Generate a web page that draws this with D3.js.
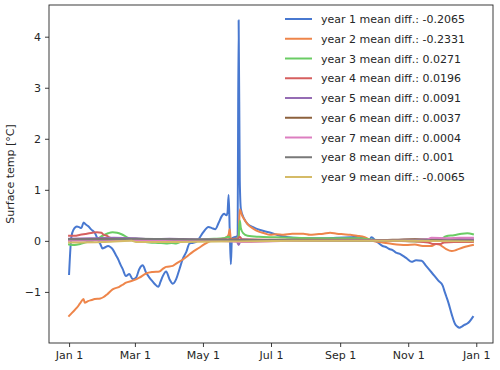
<!DOCTYPE html>
<head lang="en">
<meta charset="utf-8">
<title>Surface temp mean difference per year</title>
<style>
body { margin:0; background:#fff; }
* { font-family:"DejaVu Sans", sans-serif; }
</style>
<script src="https://cdnjs.cloudflare.com/ajax/libs/d3/7.8.5/d3.min.js"></script>
</head>
<body>
<script>
// series as [day of year, value] pairs
var year1 = [[0,-0.65],[2,0.07],[4,0.22],[7,0.28],[9,0.27],[11,0.25],[13,0.36],[15,0.32],[17,0.29],[20,0.22],[23,0.16],[26,0.02],[28,-0.06],[30,-0.15],[32,-0.13],[35,-0.1],[37,-0.12],[39,-0.16],[42,-0.28],[44,-0.36],[46,-0.46],[48,-0.55],[51,-0.69],[54,-0.65],[57,-0.75],[60,-0.72],[63,-0.55],[66,-0.48],[69,-0.62],[72,-0.72],[75,-0.8],[77,-0.85],[80,-0.9],[82,-0.8],[84,-0.69],[87,-0.6],[90,-0.75],[93,-0.84],[96,-0.75],[99,-0.55],[102,-0.35],[105,-0.22],[108,-0.05],[110,-0.04],[114,-0.02],[117,0.06],[120,0.16],[125,0.27],[128,0.25],[131,0.23],[134,0.35],[137,0.49],[139,0.53],[141,0.5],[142,0.55],[143,0.9],[144,0.2],[145,-0.46],[146,0.05],[148,0.07],[150,0.08],[151,0.1],[152,4.32],[153,1.2],[154,0.62],[157,0.43],[160,0.33],[165,0.27],[169,0.23],[177,0.18],[182,0.15],[189,0.1],[201,0.06],[222,0.05],[240,0.06],[252,0.07],[260,0.08],[265,0.04],[269,0.01],[271,0.07],[275,0],[281,-0.1],[284,-0.12],[287,-0.16],[290,-0.18],[293,-0.23],[296,-0.25],[299,-0.29],[303,-0.35],[307,-0.41],[311,-0.38],[316,-0.39],[320,-0.49],[325,-0.62],[331,-0.78],[335,-0.88],[336,-0.95],[338,-1.08],[340,-1.21],[343,-1.44],[346,-1.63],[348,-1.68],[350,-1.7],[352,-1.68],[354,-1.65],[357,-1.62],[359,-1.58],[362,-1.49]];
var year2 = [[0,-1.47],[3,-1.4],[7,-1.31],[10,-1.22],[13,-1.14],[14,-1.21],[17,-1.18],[20,-1.16],[23,-1.14],[28,-1.13],[31,-1.1],[34,-1.05],[39,-0.95],[45,-0.9],[48,-0.86],[51,-0.82],[57,-0.78],[63,-0.72],[69,-0.64],[75,-0.61],[81,-0.6],[84,-0.55],[87,-0.51],[93,-0.49],[97,-0.43],[101,-0.38],[106,-0.3],[110,-0.23],[117,-0.13],[121,-0.07],[126,-0.01],[135,0.03],[141,0.07],[143,0.12],[144,0.23],[145,0.03],[148,0.04],[151,0.04],[152,0.1],[153,0.62],[155,0.5],[156,0.46],[160,0.33],[165,0.24],[170,0.18],[175,0.15],[180,0.12],[186,0.13],[192,0.12],[200,0.14],[210,0.14],[216,0.12],[222,0.13],[228,0.14],[234,0.16],[240,0.14],[246,0.13],[252,0.12],[258,0.1],[265,0.07],[272,0],[281,-0.03],[290,-0.06],[302,-0.08],[310,-0.07],[317,-0.1],[325,-0.1],[329,-0.06],[332,-0.07],[334,-0.1],[338,-0.16],[343,-0.2],[347,-0.18],[353,-0.13],[358,-0.1],[362,-0.08]];
var year3 = [[0,-0.07],[5,-0.08],[10,-0.06],[15,-0.03],[21,0],[26,0.05],[30,0.1],[35,0.15],[39,0.17],[43,0.16],[47,0.13],[53,0.06],[58,0.01],[65,-0.01],[72,-0.03],[80,-0.04],[87,-0.05],[92,-0.04],[96,-0.05],[102,0],[110,0.02],[120,0.03],[130,0.04],[138,0.05],[143,0.08],[145,0.02],[150,0.03],[152,0.08],[153,0.4],[154,0.25],[156,0.15],[160,0.1],[170,0.08],[185,0.07],[200,0.06],[230,0.05],[260,0.05],[272,0.02],[290,0.01],[310,-0.01],[325,0],[333,0.03],[338,0.09],[345,0.11],[352,0.14],[357,0.15],[362,0.13]];
var year4 = [[0,0.1],[5,0.1],[10,0.12],[16,0.14],[21,0.16],[25,0.17],[29,0.16],[31,0.12],[34,0.1],[36,0.07],[42,0.04],[60,0.03],[90,0.02],[120,0.02],[145,0.03],[151,0.03],[153,0.08],[155,0.03],[200,0.02],[260,0.02],[290,0.0],[310,-0.01],[322,-0.03],[326,-0.06],[333,-0.06],[336,-0.03],[345,-0.02],[362,-0.02]];
var year5 = [[0,0.04],[20,0.05],[40,0.06],[60,0.05],[75,0.03],[90,0.04],[110,0.03],[140,0.02],[150,0.01],[152,-0.08],[154,0.02],[200,0.01],[260,0.01],[300,0.02],[325,0.03],[340,0.04],[362,0.03]];
var year6 = [[0,0.02],[30,0.03],[60,0.03],[100,0.02],[150,0.01],[200,0.01],[260,0.0],[290,0.02],[310,0.03],[330,0.01],[362,0.0]];
var year7 = [[0,0.0],[30,0.01],[60,0.01],[90,0],[120,0.01],[153,-0.02],[200,0.0],[270,0.0],[320,0.02],[325,0.06],[340,0.05],[350,0.06],[362,0.06]];
var year8 = [[0,0.03],[30,0.03],[60,0.04],[100,0.03],[150,0.02],[200,0.01],[270,0],[320,0.01],[362,0.0]];
var year9 = [[0,-0.03],[30,-0.02],[56,0.0],[60,-0.02],[100,-0.02],[150,-0.01],[200,0],[270,0],[300,0],[362,-0.01]];

var seriesNames = ["year 1", "year 2", "year 3", "year 4", "year 5", "year 6", "year 7", "year 8", "year 9"];
var meanDiffs = ["-0.2065", "-0.2331", "0.0271", "0.0196", "0.0091", "0.0037", "0.0004", "0.001", "-0.0065"];
var yTicks = [-1, 0, 1, 2, 3, 4];

var allSeries = [year1, year2, year3, year4, year5, year6, year7, year8, year9];
var colors = ["#4878d0", "#ee854a", "#6acc64", "#d65f5f", "#956cb4", "#8c613c", "#dc7ec0", "#797979", "#d5bb67"];

var width = 500, height = 370;
var margin = {top: 5, right: 7, bottom: 27, left: 49};
var iw = width - margin.left - margin.right,
	ih = height - margin.top - margin.bottom;
var fontSize = "11px";

var svg = d3.select("body").append("svg")
	.attr("width", width)
	.attr("height", height);

var g = svg.append("g").attr("transform", "translate(" + margin.left + "," + margin.top + ")");

function dayToDate(d) { return new Date(2021, 0, 1 + d); }

// matplotlib style 5% margins
var dayMin = 0, dayMax = 362;
var xpad = 0.05 * (dayMax - dayMin);
var x = d3.scaleTime()
	.domain([dayToDate(dayMin - xpad), dayToDate(dayMax + xpad)])
	.range([0, iw]);

var allVals = allSeries.flat().map(function(p) { return p[1]; });
var vmin = d3.min(allVals), vmax = d3.max(allVals);
var ypad = 0.05 * (vmax - vmin);
var y = d3.scaleLinear()
	.domain([vmin - ypad, vmax + ypad])
	.range([ih, 0]);

var line = d3.line()
	.x(function(p) { return x(dayToDate(p[0])); })
	.y(function(p) { return y(p[1]); })
	.curve(d3.curveMonotoneX);

var plot = g.append("g");
allSeries.forEach(function(s, i) {
	plot.append("path")
		.attr("d", line(s))
		.attr("fill", "none")
		.attr("stroke", colors[i])
		.attr("stroke-width", 2)
		.attr("stroke-linejoin", "round")
		.attr("stroke-linecap", "square");
});

// axes
var xAxis = d3.axisBottom(x)
	.tickValues([0, 2, 4, 6, 8, 10, 12].map(function(m) { return new Date(2021, m, 1); }))
	.tickFormat(d3.timeFormat("%b %-d"))
	.tickSize(4).tickPadding(4);
var yAxis = d3.axisLeft(y)
	.tickValues(yTicks)
	.tickFormat(function(d) { return d < 0 ? "\u2212" + Math.abs(d) : d; })
	.tickSize(4).tickPadding(4);

var gx = g.append("g").attr("transform", "translate(0," + ih + ")").call(xAxis);
var gy = g.append("g").call(yAxis);
[gx, gy].forEach(function(a) {
	a.select(".domain").remove();
	a.selectAll("line").attr("stroke", "#262626").attr("stroke-width", 0.9);
	a.selectAll("text").attr("fill", "#262626").style("font-size", fontSize);
});

g.append("rect")
	.attr("width", iw).attr("height", ih)
	.attr("fill", "none")
	.attr("stroke", "#262626")
	.attr("stroke-width", 0.9);

svg.append("text")
	.attr("transform", "translate(14," + (margin.top + ih / 2) + ") rotate(-90)")
	.attr("text-anchor", "middle")
	.attr("fill", "#262626")
	.style("font-size", fontSize)
	.text("Surface temp [\u00b0C]");

// legend
var legend = svg.append("g");
seriesNames.forEach(function(name, i) {
	var ly = 19 + i * 19.75;
	legend.append("line")
		.attr("x1", 285).attr("x2", 312)
		.attr("y1", ly).attr("y2", ly)
		.attr("stroke", colors[i])
		.attr("stroke-width", 2);
	legend.append("text")
		.attr("x", 321).attr("y", ly + 4)
		.attr("fill", "#262626")
		.style("font-size", fontSize)
		.text(name + " mean diff.: " + meanDiffs[i]);
});
</script>
</body>
</html>
